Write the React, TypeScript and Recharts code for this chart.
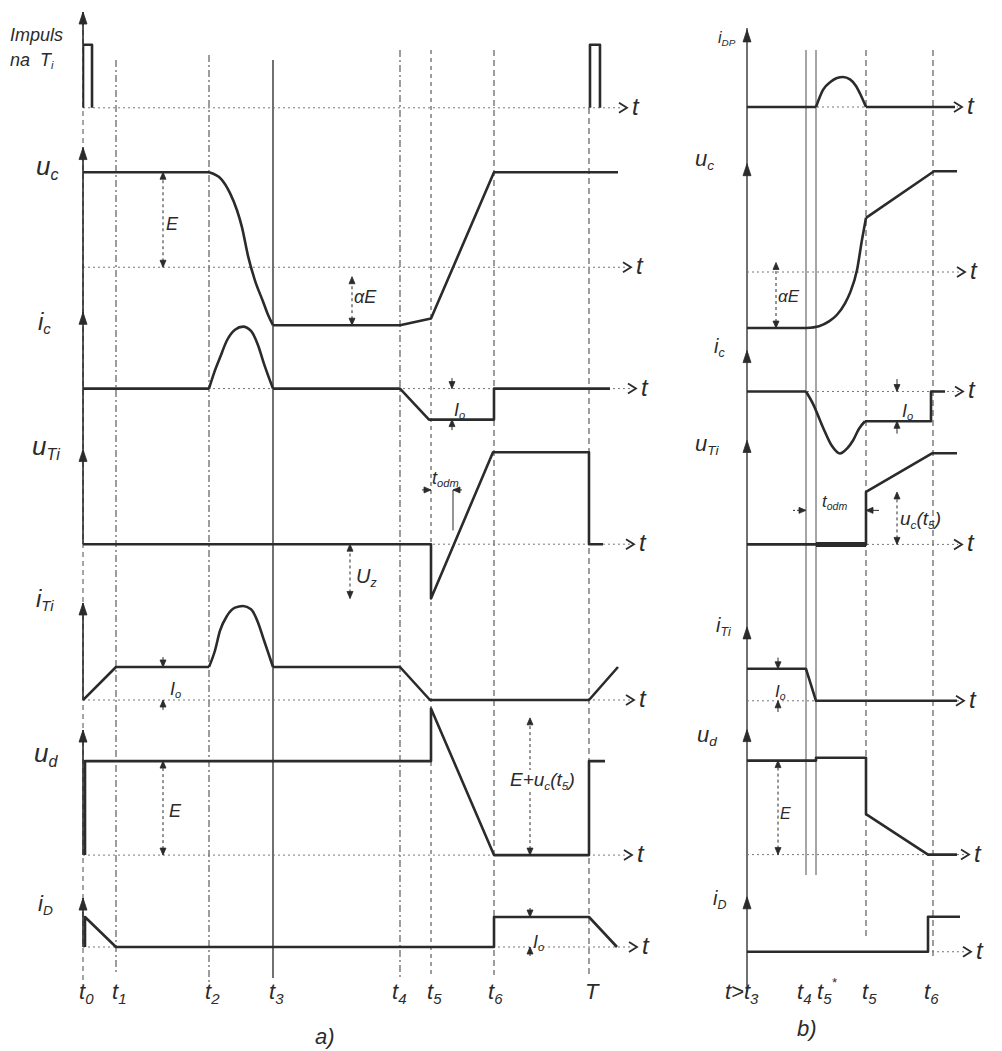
import React from 'react';
import { LineChart, Line, XAxis, YAxis, ReferenceLine, ReferenceDot } from 'recharts';

type Pt = [number, number];
type Seg = { c?: boolean; pts: Pt[] };
type VDim = { t: number; a: number; b: number; k: 'out' | 'in' | 'line'; e?: number };
type HDim = { y: number; a: number; b: number; e: number };

const INK = '#2b2b2b';
const GRID = '#4d4d4d';
const FONT = '"Liberation Sans", Arial, sans-serif';

// ---------- a) time instants t0 ... T ----------
const ticksA = [0, 3.3, 12.6, 19.0, 31.7, 34.8, 41.1, 50.6];
const tickNamesA = [['t', '0'], ['t', '1'], ['t', '2'], ['t', '3'], ['t', '4'], ['t', '5'], ['t', '6'], ['T', '']];

// a) waveforms (value units: E or I0 = 1)
const impulsA: Seg[] = [
  { pts: [[0, 0], [0, 1], [0.9, 1], [0.9, 0]] },
  { pts: [[50.7, 0], [50.7, 1], [51.7, 1], [51.7, 0]] },
];
const ucA: Seg[] = [
  { pts: [[0, 1], [12.6, 1]] },
  { c: true, pts: [[12.6, 1], [13.8, 0.93], [14.7, 0.78], [15.4, 0.6], [15.9, 0.42], [16.5, 0.12], [17.2, -0.14], [18.0, -0.36], [18.5, -0.5], [19.0, -0.61]] },
  { pts: [[19.0, -0.61], [31.7, -0.61], [34.8, -0.54], [41.1, 1], [53.5, 1]] },
];
const icA: Seg[] = [
  { pts: [[0, 0], [12.6, 0]] },
  { c: true, pts: [[12.6, 0], [13.1, 0.25], [13.7, 0.5], [14.4, 0.78], [15.2, 0.95], [16.0, 1], [16.8, 0.93], [17.5, 0.7], [18.1, 0.4], [19.0, 0]] },
  { pts: [[19.0, 0], [31.7, 0], [34.6, -0.5], [41.1, -0.5], [41.1, 0], [52.7, 0]] },
];
const uTiA: Seg[] = [
  { pts: [[0, 0], [34.8, 0], [34.8, -0.59], [41.0, 1], [50.6, 1], [50.6, 0], [52.0, 0]] },
];
const iTiA: Seg[] = [
  { pts: [[0, 0], [3.3, 1], [12.6, 1]] },
  { c: true, pts: [[12.6, 1], [13.2, 1.5], [13.7, 2.1], [14.4, 2.55], [15.2, 2.8], [16.0, 2.85], [16.8, 2.75], [17.5, 2.35], [18.0, 1.9], [18.5, 1.45], [19.0, 1]] },
  { pts: [[19.0, 1], [31.7, 1], [34.7, 0], [50.6, 0], [53.5, 1]] },
];
const udA: Seg[] = [
  { pts: [[0.2, 0], [0.2, 1], [34.8, 1], [34.8, 1.56], [41.1, 0], [50.6, 0], [50.6, 1], [52.2, 1]] },
];
const iDA: Seg[] = [
  { pts: [[0.2, 0], [0.2, 1], [3.3, 0], [41.1, 0], [41.1, 1], [50.6, 1], [53.4, 0]] },
];

const dimsUcA: VDim[] = [{ t: 8.0, a: 0, b: 1, k: 'out' }, { t: 26.9, a: -0.61, b: -0.1, k: 'out' }];
const dimsIcA: VDim[] = [{ t: 36.9, a: -0.5, b: 0, k: 'in', e: 0.17 }];
const dimsUTiA: VDim[] = [{ t: 26.7, a: -0.59, b: 0, k: 'out' }, { t: 37.0, a: 0.15, b: 0.59, k: 'line' }];
const hdimsUTiA: HDim[] = [{ y: 0.59, a: 34.8, b: 37.0, e: 0.9 }];
const dimsITiA: VDim[] = [{ t: 8.0, a: 0, b: 1, k: 'in', e: 0.3 }];
const dimsUdA: VDim[] = [{ t: 8.0, a: 0, b: 1, k: 'out' }, { t: 44.7, a: 0, b: 1.46, k: 'out' }];
const dimsIDA: VDim[] = [{ t: 44.7, a: 0, b: 1, k: 'in', e: 0.3 }];

// ---------- b) time instants from t3 ----------
const ticksB = [0, 5.9, 6.9, 11.9, 18.6];
const tickNamesB = [['t>t', '3'], ['t', '4'], ['t', '5', '*'], ['t', '5'], ['t', '6']];

const iDPb: Seg[] = [
  { pts: [[0, 0], [6.9, 0]] },
  { c: true, pts: [[6.9, 0], [7.6, 0.57], [8.4, 0.85], [9.0, 0.97], [9.6, 1], [10.3, 0.92], [10.9, 0.7], [11.3, 0.45], [11.9, 0]] },
  { pts: [[11.9, 0], [20.8, 0]] },
];
const ucB: Seg[] = [
  { pts: [[0, -0.59], [5.9, -0.59]] },
  { c: true, pts: [[5.9, -0.59], [7.2, -0.57], [8.2, -0.52], [9.0, -0.45], [9.8, -0.33], [10.3, -0.22], [11.0, 0.02], [11.5, 0.34], [11.9, 0.57]] },
  { pts: [[11.9, 0.57], [18.7, 1.06], [21.0, 1.06]] },
];
const icB: Seg[] = [
  { pts: [[0, 0], [5.9, 0]] },
  { c: true, pts: [[5.9, 0], [6.6, -0.2], [7.6, -0.58], [8.5, -0.88], [9.3, -1.0], [10.0, -0.92], [10.6, -0.79], [11.2, -0.6], [11.8, -0.48]] },
  { pts: [[11.8, -0.48], [18.4, -0.48], [18.4, 0], [19.8, 0]] },
];
const uTiB: Seg[] = [{ pts: [[0, 0], [11.9, 0], [11.9, 0.57], [18.5, 0.99], [21.0, 0.99]] }];
const uTiBoldB: Pt[] = [[6.9, 0], [11.9, 0]];
const iTiB: Seg[] = [{ pts: [[0, 1], [5.9, 1], [6.9, 0], [21.0, 0]] }];
const udB: Seg[] = [{ pts: [[0, 1], [6.9, 1], [6.9, 1.03], [11.9, 1.03], [11.9, 0.43], [18.1, 0], [21.0, 0]] }];
const iDB: Seg[] = [{ pts: [[0, 0], [18.1, 0], [18.1, 1], [21.3, 1]] }];

const dimsUcB: VDim[] = [{ t: 2.9, a: -0.59, b: 0.1, k: 'out' }];
const dimsIcB: VDim[] = [{ t: 15.0, a: -0.48, b: 0, k: 'in', e: 0.2 }];
const dimsUTiB: VDim[] = [{ t: 15.0, a: 0, b: 0.57, k: 'out' }];
const hdimsUTiB: HDim[] = [{ y: 0.37, a: 5.9, b: 11.9, e: 1.3 }];
const dimsITiB: VDim[] = [{ t: 3.1, a: 0, b: 1, k: 'in', e: 0.35 }];
const dimsUdB: VDim[] = [{ t: 3.1, a: 0, b: 1, k: 'out' }];

// ---------- layout ----------
type RowDef = {
  segs: Seg[]; bold?: Pt[]; zero: number; unit: number; lo: number; hi: number;
  arrow: number; axisFrom?: number; mark: number; dims?: VDim[]; hdims?: HDim[];
};

const rowsA: RowDef[] = [
  { segs: impulsA, zero: 108, unit: 63, lo: -0.7, hi: 1.6, arrow: 1.52, axisFrom: 0, mark: 54.0 },
  { segs: ucA, zero: 267, unit: 95, lo: -0.8, hi: 1.35, arrow: 1.26, axisFrom: -0.49, mark: 54.4, dims: dimsUcA },
  { segs: icA, zero: 389, unit: 62, lo: -1.05, hi: 1.3, arrow: 1.23, axisFrom: -0.98, mark: 54.9, dims: dimsIcA },
  { segs: uTiA, zero: 544, unit: 92, lo: -0.75, hi: 1.1, arrow: 1.03, axisFrom: 0, mark: 54.7, dims: dimsUTiA, hdims: hdimsUTiA },
  { segs: iTiA, zero: 700, unit: 33, lo: -0.5, hi: 3.0, arrow: 2.94, axisFrom: 0, mark: 54.7, dims: dimsITiA },
  { segs: udA, zero: 855, unit: 94, lo: -0.3, hi: 1.65, arrow: 1.33, axisFrom: 0, mark: 54.5, dims: dimsUdA },
  { segs: iDA, zero: 947, unit: 30, lo: -0.4, hi: 1.7, arrow: 1.63, axisFrom: 0, mark: 55.0, dims: dimsIDA },
];
const rowsB: RowDef[] = [
  { segs: iDPb, zero: 107, unit: 30, lo: -0.5, hi: 2.7, arrow: 2.57, mark: 21.1 },
  { segs: ucB, zero: 272, unit: 95, lo: -0.75, hi: 1.2, arrow: 1.14, mark: 21.4, dims: dimsUcB },
  { segs: icB, zero: 391, unit: 62, lo: -1.15, hi: 0.75, arrow: 0.66, mark: 21.2, dims: dimsIcB },
  { segs: uTiB, bold: uTiBoldB, zero: 544, unit: 92, lo: -0.3, hi: 1.2, arrow: 1.13, mark: 21.1, dims: dimsUTiB, hdims: hdimsUTiB },
  { segs: iTiB, zero: 701, unit: 32, lo: -0.5, hi: 2.4, arrow: 2.31, mark: 21.3, dims: dimsITiB },
  { segs: udB, zero: 855, unit: 94, lo: -0.3, hi: 1.4, arrow: 1.33, mark: 21.8, dims: dimsUdB },
  { segs: iDB, zero: 952, unit: 35, lo: -0.4, hi: 1.65, arrow: 1.57, mark: 22.0 },
];

const A = { left: 83, width: 580, xMax: 58 };
const B = { left: 747, width: 230, xMax: 23 };
const FRAME_H = 1015;
const PLOT_H = 980;

// vertical time lines (y in page pixels)
const linesA = [
  { t: 0, y1: 12, y2: 985, dash: '5 4', w: 1 },
  { t: ticksA[1], y1: 60, y2: 975, dash: '7 3 2 3' },
  { t: ticksA[2], y1: 55, y2: 985, dash: '7 3 2 3' },
  { t: ticksA[3], y1: 60, y2: 978, w: 1.6 },
  { t: ticksA[4], y1: 50, y2: 980, dash: '7 3 2 3' },
  { t: ticksA[5], y1: 50, y2: 978, dash: '4 4' },
  { t: ticksA[6], y1: 50, y2: 975, dash: '6 4' },
  { t: ticksA[7], y1: 108, y2: 975, dash: '6 4' },
];
const linesB = [
  { t: 0, y1: 28, y2: 992, w: 1.6 },
  { t: ticksB[1], y1: 50, y2: 875, w: 1 },
  { t: ticksB[2], y1: 50, y2: 875, w: 1 },
  { t: ticksB[3], y1: 50, y2: 940, dash: '6 4' },
  { t: ticksB[4], y1: 50, y2: 960, dash: '6 4' },
];
const tickDxA = [-4, -4, -4, -4, -8, -4, -6, -4];
const tickDxB = [-22, -9, 1, -4, -9];

const head = (dir: string, L = 7, W = 3) => (p: any) => {
  const { cx, cy } = p;
  let d = '';
  if (dir === 'up') d = `M${cx},${cy} L${cx - W},${cy + L} L${cx + W},${cy + L} Z`;
  if (dir === 'down') d = `M${cx},${cy} L${cx - W},${cy - L} L${cx + W},${cy - L} Z`;
  if (dir === 'left') d = `M${cx},${cy} L${cx + L},${cy - W} L${cx + L},${cy + W} Z`;
  if (dir === 'right') d = `M${cx},${cy} L${cx - L},${cy - W} L${cx - L},${cy + W} Z`;
  return <path d={d} fill={INK} stroke={INK} strokeWidth={0.8} />;
};

const tArrow = (p: any) => (
  <g>
    <path d={`M${p.cx - 4},${p.cy - 5} L${p.cx + 4},${p.cy} L${p.cx - 4},${p.cy + 5}`} fill="none" stroke={INK} strokeWidth={1.8} />
    <text x={p.cx + 9} y={p.cy + 7} fontSize={24} fontStyle="italic" fontFamily={FONT} fill={INK}>t</text>
  </g>
);

function Row({ r, left, width, xMax, axisSolid }: { r: RowDef; left: number; width: number; xMax: number; axisSolid: boolean }) {
  const top = r.zero - r.hi * r.unit;
  const height = (r.hi - r.lo) * r.unit;
  const els: React.ReactNode[] = [];
  (r.dims || []).forEach((d, i) => {
    if (d.k === 'line') {
      els.push(<ReferenceLine key={`l${i}`} segment={[{ x: d.t, y: d.a }, { x: d.t, y: d.b }]} stroke={INK} strokeWidth={1} />);
    } else if (d.k === 'out') {
      els.push(<ReferenceLine key={`s${i}`} segment={[{ x: d.t, y: d.a }, { x: d.t, y: d.b }]} stroke={INK} strokeWidth={1} strokeDasharray="3 3" />);
      els.push(<ReferenceDot key={`u${i}`} x={d.t} y={d.b} shape={head('up')} />);
      els.push(<ReferenceDot key={`d${i}`} x={d.t} y={d.a} shape={head('down')} />);
    } else {
      const e = d.e || 0.2;
      els.push(<ReferenceLine key={`s1${i}`} segment={[{ x: d.t, y: d.b + e }, { x: d.t, y: d.b }]} stroke={INK} strokeWidth={1} />);
      els.push(<ReferenceLine key={`s2${i}`} segment={[{ x: d.t, y: d.a - e }, { x: d.t, y: d.a }]} stroke={INK} strokeWidth={1} />);
      els.push(<ReferenceDot key={`d${i}`} x={d.t} y={d.b} shape={head('down')} />);
      els.push(<ReferenceDot key={`u${i}`} x={d.t} y={d.a} shape={head('up')} />);
    }
  });
  (r.hdims || []).forEach((h, i) => {
    els.push(<ReferenceLine key={`h1${i}`} segment={[{ x: h.a - h.e, y: h.y }, { x: h.a, y: h.y }]} stroke={INK} strokeWidth={1} strokeDasharray="2 2" />);
    els.push(<ReferenceLine key={`h2${i}`} segment={[{ x: h.b + h.e, y: h.y }, { x: h.b, y: h.y }]} stroke={INK} strokeWidth={1} />);
    els.push(<ReferenceDot key={`hr${i}`} x={h.a} y={h.y} shape={head('right')} />);
    els.push(<ReferenceDot key={`hl${i}`} x={h.b} y={h.y} shape={head('left')} />);
  });
  return (
    <div style={{ position: 'absolute', left, top, width, height }}>
      <LineChart width={width} height={height} margin={{ top: 0, right: 0, bottom: 0, left: 0 }}>
        <XAxis hide type="number" dataKey="t" domain={[0, xMax]} allowDataOverflow />
        <YAxis hide type="number" domain={[r.lo, r.hi]} allowDataOverflow />
        <ReferenceLine segment={[{ x: 0, y: 0 }, { x: r.mark, y: 0 }]} stroke="#777" strokeWidth={1} strokeDasharray="2 3" />
        {axisSolid && r.axisFrom !== undefined ? (
          <ReferenceLine segment={[{ x: 0, y: r.axisFrom }, { x: 0, y: r.arrow }]} stroke={INK} strokeWidth={1.6} />
        ) : null}
        <ReferenceDot x={0} y={r.arrow} shape={head('up', 12, 4)} />
        {els}
        {r.segs.map((s, i) => (
          <Line
            key={i}
            data={s.pts.map(([t, v]) => ({ t, v }))}
            dataKey="v"
            type={s.c ? 'monotone' : 'linear'}
            stroke={INK}
            strokeWidth={2.6}
            strokeLinejoin="round"
            dot={false}
            activeDot={false}
            isAnimationActive={false}
          />
        ))}
        {r.bold ? (
          <Line data={r.bold.map(([t, v]) => ({ t, v }))} dataKey="v" type="linear" stroke={INK} strokeWidth={5} dot={false} activeDot={false} isAnimationActive={false} />
        ) : null}
        <ReferenceDot x={r.mark} y={0} shape={tArrow} />
      </LineChart>
    </div>
  );
}

function Frame({ left, width, xMax, ticks, names, dx, lines }: any) {
  const tick = (p: any) => {
    const i = ticks.indexOf(p.payload.value);
    const n = names[i] || ['', ''];
    return (
      <text x={p.x + dx[i]} y={p.y + 11} fill={INK} fontSize={22} fontStyle="italic" fontFamily={FONT}>
        {n[0]}
        <tspan fontSize={15} dy={5}>{n[1]}</tspan>
        {n[2] ? <tspan fontSize={13} dy={-17}>{n[2]}</tspan> : null}
      </text>
    );
  };
  return (
    <div style={{ position: 'absolute', left, top: 0 }}>
      <LineChart width={width} height={FRAME_H} margin={{ top: 0, right: 0, bottom: 0, left: 0 }} data={ticks.map((t: number) => ({ t }))}>
        <XAxis type="number" dataKey="t" domain={[0, xMax]} ticks={ticks} interval={0} axisLine={false} tickLine={false} height={FRAME_H - PLOT_H} tick={tick} allowDataOverflow />
        <YAxis hide type="number" domain={[0, PLOT_H]} reversed allowDataOverflow />
        {lines.map((l: any, i: number) => (
          <ReferenceLine key={i} ifOverflow="visible" segment={[{ x: l.t, y: l.y1 }, { x: l.t, y: l.y2 }]} stroke={GRID} strokeWidth={l.w ?? 1.1} strokeDasharray={l.dash} />
        ))}
      </LineChart>
    </div>
  );
}

function Lbl({ x, y, s = 20, bg, children }: { x: number; y: number; s?: number; bg?: boolean; children: React.ReactNode }) {
  return (
    <div style={{ position: 'absolute', left: x, top: y, fontSize: s, fontStyle: 'italic', fontFamily: FONT, color: INK, lineHeight: 1, whiteSpace: 'nowrap', background: bg ? '#fff' : undefined }}>
      {children}
    </div>
  );
}
const Sub = ({ children }: { children: React.ReactNode }) => (
  <sub style={{ fontSize: '0.62em', verticalAlign: '-0.3em' }}>{children}</sub>
);

export default function App() {
  return (
    <div style={{ position: 'absolute', left: 0, top: 0, width: 1002, height: 1051, background: '#fff', overflow: 'hidden' }}>
      <style>{`.recharts-surface{overflow:visible}`}</style>
      <Frame {...A} ticks={ticksA} names={tickNamesA} dx={tickDxA} lines={linesA} />
      <Frame {...B} ticks={ticksB} names={tickNamesB} dx={tickDxB} lines={linesB} />
      {rowsA.map((r, i) => <Row key={`a${i}`} r={r} left={A.left} width={A.width} xMax={A.xMax} axisSolid />)}
      {rowsB.map((r, i) => <Row key={`b${i}`} r={r} left={B.left} width={B.width} xMax={B.xMax} axisSolid={false} />)}

      {/* a) labels */}
      <Lbl x={10} y={26} s={18}>Impuls</Lbl>
      <Lbl x={10} y={51} s={18}>na&nbsp; T<Sub>i</Sub></Lbl>
      <Lbl x={36} y={153} s={26}>u<Sub>c</Sub></Lbl>
      <Lbl x={38} y={310} s={24}>i<Sub>c</Sub></Lbl>
      <Lbl x={32} y={433} s={26}>u<Sub>Ti</Sub></Lbl>
      <Lbl x={36} y={587} s={24}>i<Sub>Ti</Sub></Lbl>
      <Lbl x={34} y={740} s={26}>u<Sub>d</Sub></Lbl>
      <Lbl x={38} y={893} s={22}>i<Sub>D</Sub></Lbl>
      <Lbl x={166} y={215} s={18}>E</Lbl>
      <Lbl x={354} y={288} s={18}>αE</Lbl>
      <Lbl x={454} y={401} s={18}>I<Sub>o</Sub></Lbl>
      <Lbl x={356} y={566} s={20}>U<Sub>z</Sub></Lbl>
      <Lbl x={432} y={469} s={18}>t<Sub>odm</Sub></Lbl>
      <Lbl x={170} y={680} s={18}>I<Sub>o</Sub></Lbl>
      <Lbl x={169} y={802} s={18}>E</Lbl>
      <Lbl x={510} y={770} s={19} bg>E+u<Sub>c</Sub>(t<Sub>5</Sub>)</Lbl>
      <Lbl x={533} y={933} s={18}>I<Sub>o</Sub></Lbl>
      <Lbl x={315} y={1026} s={22}>a)</Lbl>

      {/* b) labels */}
      <Lbl x={718} y={30} s={16}>i<Sub>DP</Sub></Lbl>
      <Lbl x={695} y={148} s={22}>u<Sub>c</Sub></Lbl>
      <Lbl x={714} y={336} s={20}>i<Sub>c</Sub></Lbl>
      <Lbl x={695} y={433} s={22}>u<Sub>Ti</Sub></Lbl>
      <Lbl x={716} y={615} s={20}>i<Sub>Ti</Sub></Lbl>
      <Lbl x={697} y={724} s={22}>u<Sub>d</Sub></Lbl>
      <Lbl x={713} y={888} s={20}>i<Sub>D</Sub></Lbl>
      <Lbl x={778} y={288} s={17}>αE</Lbl>
      <Lbl x={902} y={402} s={18}>I<Sub>o</Sub></Lbl>
      <Lbl x={822} y={493} s={17}>t<Sub>odm</Sub></Lbl>
      <Lbl x={900} y={509} s={19}>u<Sub>c</Sub>(t<Sub>5</Sub>)</Lbl>
      <Lbl x={775} y={683} s={17}>I<Sub>o</Sub></Lbl>
      <Lbl x={780} y={806} s={16}>E</Lbl>
      <Lbl x={797} y={1018} s={22}>b)</Lbl>
    </div>
  );
}
